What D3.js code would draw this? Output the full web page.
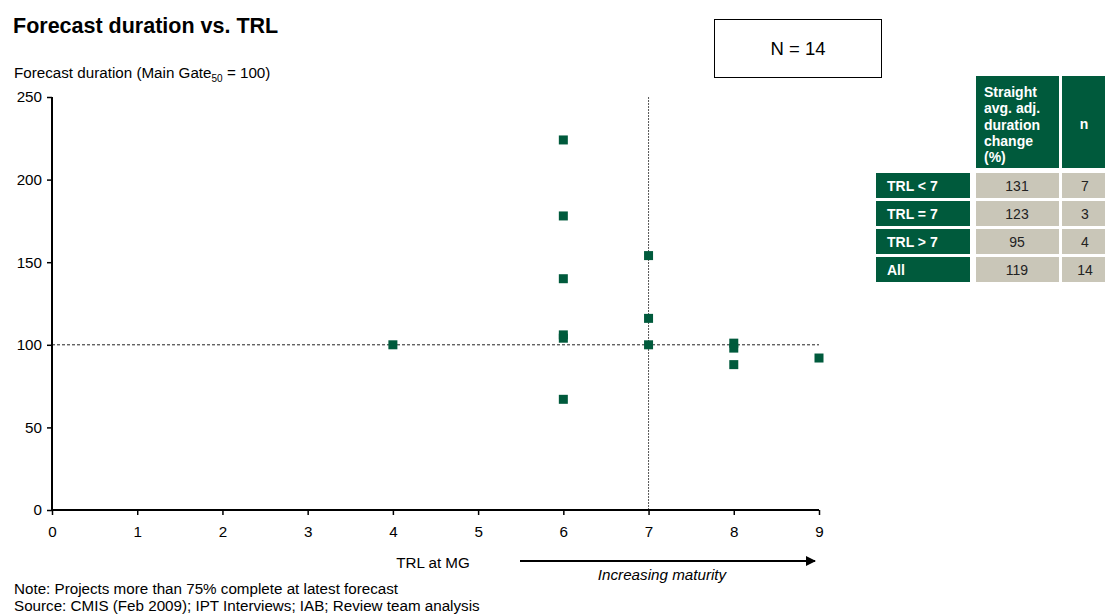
<!DOCTYPE html>
<html>
<head>
<meta charset="utf-8">
<script src="https://cdn.jsdelivr.net/npm/d3@7"></script>
<style>
  body { margin: 0; background: #fff; }
  svg { font-family: "Liberation Sans", Arial, sans-serif; }
</style>
</head>
<body>
<svg id="chart" width="1105" height="615"></svg>
<script>
// Project data: TRL at main gate and forecast duration (Main Gate50 = 100)
const trl      = [4, 6, 6, 6, 6, 6, 6, 7, 7, 7, 8, 8, 8, 9];
const duration = [100, 224, 178, 140, 106, 104, 67, 154, 116, 100, 101, 98, 88, 92];

const xTicks = [0, 1, 2, 3, 4, 5, 6, 7, 8, 9];
const yTicks = [0, 50, 100, 150, 200, 250];

// Summary table
const groups   = ["TRL < 7", "TRL = 7", "TRL > 7", "All"];
const avgChange = [131, 123, 95, 119];
const groupN   = [7, 3, 4, 14];

const green = "#005a3c";
const grey = "#c9c6b8";
const fs = 15.2;

const svg = d3.select("#chart");

const x = d3.scaleLinear().domain([0, 9]).range([52, 819]);
const y = d3.scaleLinear().domain([0, 250]).range([510, 97]);

// Title and axis caption
svg.append("text").attr("x", 13).attr("y", 33)
  .attr("font-size", 21.5).attr("font-weight", "bold").text("Forecast duration vs. TRL");

const yl = svg.append("text").attr("x", 14).attr("y", 78).attr("font-size", fs);
yl.append("tspan").text("Forecast duration (Main Gate");
yl.append("tspan").attr("font-size", 10).attr("dy", 4).text("50");
yl.append("tspan").attr("dy", -4).text(" = 100)");

// Reference lines
svg.append("line")
  .attr("x1", x(0)).attr("x2", x(9)).attr("y1", y(100)).attr("y2", y(100))
  .attr("stroke", "#222").attr("stroke-width", 1).attr("stroke-dasharray", "3,2");
svg.append("line")
  .attr("x1", x(7)).attr("x2", x(7)).attr("y1", y(250)).attr("y2", y(0))
  .attr("stroke", "#555").attr("stroke-width", 1).attr("stroke-dasharray", "2,1");

// Axes
const yAxis = svg.append("g").attr("transform", `translate(${x(0)},0)`)
  .call(d3.axisLeft(y).tickValues(yTicks).tickSize(5).tickPadding(5));
const xAxis = svg.append("g").attr("transform", `translate(0,${y(0)})`)
  .call(d3.axisBottom(x).tickValues(xTicks).tickSize(5).tickPadding(11));
[yAxis, xAxis].forEach(g => {
  g.select(".domain").attr("stroke", "#000").attr("stroke-width", 2);
  g.selectAll(".tick line").attr("stroke", "#000").attr("stroke-width", 1.5);
  g.selectAll(".tick text").attr("font-size", fs).attr("fill", "#000")
    .attr("font-family", "Liberation Sans, Arial, sans-serif");
});
xAxis.select(".domain").attr("d", `M${x(0)},0H${x(9)}`);
yAxis.select(".domain").attr("d", `M0,${y(250)}V${y(0)}`);

// Data points
const sq = 9;
svg.append("g").selectAll("rect")
  .data(trl.map((t, i) => ({ t, v: duration[i] })))
  .join("rect")
  .attr("x", d => x(d.t) - sq / 2)
  .attr("y", d => y(d.v) - sq / 2)
  .attr("width", sq).attr("height", sq)
  .attr("fill", green);

// X axis caption and maturity arrow
svg.append("text").attr("x", 433).attr("y", 568).attr("text-anchor", "middle")
  .attr("font-size", fs).text("TRL at MG");
svg.append("defs").append("marker")
  .attr("id", "arrow").attr("viewBox", "0 0 10 10").attr("refX", 9).attr("refY", 5)
  .attr("markerWidth", 5).attr("markerHeight", 5).attr("orient", "auto")
  .append("path").attr("d", "M0,0L10,5L0,10Z").attr("fill", "#000");
svg.append("line").attr("x1", 520).attr("x2", 815).attr("y1", 561).attr("y2", 561)
  .attr("stroke", "#000").attr("stroke-width", 2).attr("marker-end", "url(#arrow)");
svg.append("text").attr("x", 662).attr("y", 580).attr("text-anchor", "middle")
  .attr("font-size", fs).attr("font-style", "italic").text("Increasing maturity");

// Footnotes
svg.append("text").attr("x", 14).attr("y", 594).attr("font-size", fs)
  .text("Note: Projects more than 75% complete at latest forecast");
svg.append("text").attr("x", 14).attr("y", 611).attr("font-size", fs)
  .text("Source: CMIS (Feb 2009); IPT Interviews; IAB; Review team analysis");

// Sample size box
svg.append("rect").attr("x", 714.5).attr("y", 19.5).attr("width", 167).attr("height", 58)
  .attr("fill", "#fff").attr("stroke", "#000").attr("stroke-width", 1);
svg.append("text").attr("x", 798).attr("y", 55).attr("text-anchor", "middle")
  .attr("font-size", 18.5).text("N = 14");

// Summary table
const tfs = 14;
const tbl = svg.append("g");
tbl.append("rect").attr("x", 976).attr("y", 76).attr("width", 83).attr("height", 92).attr("fill", green);
tbl.append("rect").attr("x", 1062).attr("y", 76).attr("width", 43).attr("height", 92).attr("fill", green);
const hdr = ["Straight", "avg. adj.", "duration", "change", "(%)"];
tbl.append("text").attr("font-size", tfs).attr("font-weight", "bold").attr("fill", "#fff")
  .selectAll("tspan").data(hdr).join("tspan")
  .attr("x", 984).attr("y", (d, i) => 97 + i * 16.3).text(d => d);
tbl.append("text").attr("x", 1084).attr("y", 129).attr("text-anchor", "middle")
  .attr("font-size", tfs).attr("font-weight", "bold").attr("fill", "#fff").text("n");

const rowTop = [173, 201, 229, 257];
groups.forEach((g, i) => {
  const ty = rowTop[i];
  tbl.append("rect").attr("x", 876).attr("y", ty).attr("width", 94).attr("height", 25).attr("fill", green);
  tbl.append("rect").attr("x", 976).attr("y", ty).attr("width", 83).attr("height", 25).attr("fill", grey);
  tbl.append("rect").attr("x", 1062).attr("y", ty).attr("width", 43).attr("height", 25).attr("fill", grey);
  tbl.append("text").attr("x", 887).attr("y", ty + 17.5).attr("font-size", tfs)
    .attr("font-weight", "bold").attr("fill", "#fff").text(g);
  tbl.append("text").attr("x", 1017).attr("y", ty + 17.5).attr("text-anchor", "middle")
    .attr("font-size", tfs).attr("fill", "#222").text(avgChange[i]);
  tbl.append("text").attr("x", 1085).attr("y", ty + 17.5).attr("text-anchor", "middle")
    .attr("font-size", tfs).attr("fill", "#222").text(groupN[i]);
});
</script>
</body>
</html>
